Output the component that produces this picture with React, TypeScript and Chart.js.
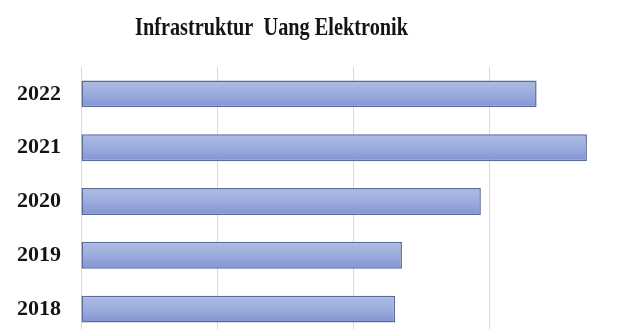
import React, { useEffect, useRef } from "react";
import { Chart, registerables } from "chart.js";

Chart.register(...registerables);

const TITLE = "Infrastruktur  Uang Elektronik";
const categories = ["2022", "2021", "2020", "2019", "2018"];
const values = [3.35, 3.72, 2.94, 2.36, 2.31];
const xMin = 0;
const xMax = 4;
const xStep = 1;

const BAR_PCT = 0.5;

const titlePlugin = {
  id: "condensedTitle",
  afterDraw(chart: any) {
    const ctx = chart.ctx;
    ctx.save();
    ctx.font = 'bold 25px "Liberation Serif", "Times New Roman", serif';
    ctx.fillStyle = "#141414";
    ctx.textAlign = "center";
    ctx.textBaseline = "alphabetic";
    ctx.fillText(TITLE, chart.width * 0.4344, 35, 273);
    ctx.restore();
  },
};

export default function App() {
  const ref = useRef<HTMLCanvasElement | null>(null);

  useEffect(() => {
    if (!ref.current) return;
    const chart = new Chart(ref.current, {
      type: "bar",
      data: {
        labels: categories,
        datasets: [
          {
            data: values,
            backgroundColor: (c: any) => {
              const ch = c.chart;
              const y = ch.scales && ch.scales.y;
              if (!y || c.dataIndex === undefined) return "#9aabdd";
              const center = y.getPixelForValue(c.dataIndex);
              const spacing = Math.abs(y.getPixelForValue(1) - y.getPixelForValue(0));
              const half = (spacing * BAR_PCT) / 2;
              if (!isFinite(center) || !isFinite(half) || half <= 0) return "#9aabdd";
              const g = ch.ctx.createLinearGradient(0, center - half, 0, center + half);
              g.addColorStop(0, "#aebce3");
              g.addColorStop(0.5, "#9cacdd");
              g.addColorStop(1, "#8294d2");
              return g;
            },
            borderColor: "#5b6b98",
            borderWidth: 1.5,
            borderSkipped: false,
            barPercentage: BAR_PCT,
            categoryPercentage: 1,
          },
        ],
      },
      options: {
        indexAxis: "y",
        animation: false,
        responsive: false,
        layout: { padding: { top: 67, left: 0, right: 0, bottom: 0 } },
        plugins: {
          legend: { display: false },
          title: { display: false },
          tooltip: { enabled: false },
        },
        scales: {
          x: {
            min: xMin,
            max: xMax,
            ticks: { display: false, stepSize: xStep },
            border: { display: false },
            grid: {
              drawTicks: false,
              color: (c: any) => (c.tick && c.tick.value === xMax ? "rgba(0,0,0,0)" : "#d9d9d9"),
              lineWidth: 1,
            },
            afterFit: (scale: any) => {
              scale.height = 0;
            },
          },
          y: {
            grid: { display: false, drawTicks: false },
            border: { display: false },
            ticks: {
              padding: 20,
              color: "#141414",
              font: { family: '"Liberation Serif", "Times New Roman", serif', size: 22, weight: "bold" },
            },
            afterFit: (scale: any) => {
              scale.width = 81;
              scale.paddingTop = 0;
              scale.paddingBottom = 0;
            },
          },
        },
      },
      plugins: [titlePlugin],
    });
    return () => chart.destroy();
  }, []);

  return (
    <div
      style={{
        position: "absolute",
        left: 0,
        top: 0,
        width: 625,
        height: 329,
        overflow: "hidden",
        background: "#ffffff",
      }}
    >
      <canvas ref={ref} width={625} height={336} style={{ width: 625, height: 336, display: "block" }} />
    </div>
  );
}
